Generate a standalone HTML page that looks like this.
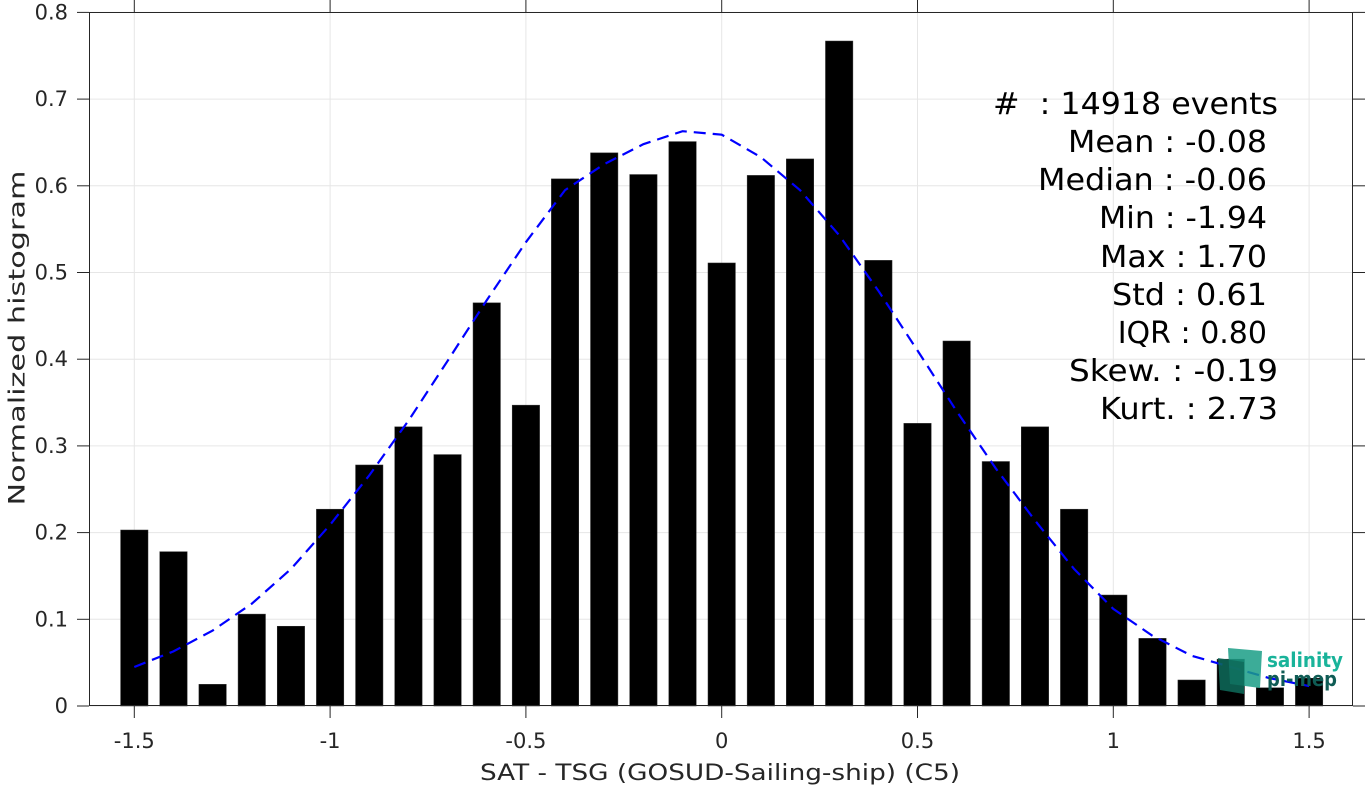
<!DOCTYPE html>
<html><head><meta charset="utf-8"><style>
body{margin:0;background:#fff;}
svg text{font-family:"DejaVu Sans","Liberation Sans",sans-serif;fill:#262626;}
</style></head><body>
<svg id="chart" width="1367" height="787" xmlns="http://www.w3.org/2000/svg">
<rect x="0" y="0" width="1367" height="787" fill="#fff"/>
<g id="grid"></g>
<g id="bars"></g>
<path id="fit" fill="none" stroke="#0000ff" stroke-width="2.2" stroke-dasharray="12,7"/>
<rect x="89.5" y="12.5" width="1263" height="693" fill="none" stroke="#262626" stroke-width="1"/>
<g id="ticks"></g>
<text x="18" y="338" font-size="22" text-anchor="middle" textLength="335" lengthAdjust="spacingAndGlyphs" transform="rotate(-90 18 338)" dominant-baseline="central">Normalized histogram</text>
<text x="480" y="780" font-size="22" textLength="480" lengthAdjust="spacingAndGlyphs">SAT - TSG (GOSUD-Sailing-ship) (C5)</text>
<g font-size="30">
<text x="993" y="114" textLength="285" lengthAdjust="spacingAndGlyphs" style="fill:#000">#&#160;&#160;: 14918 events</text>
<text x="1068" y="152" textLength="199" lengthAdjust="spacingAndGlyphs" style="fill:#000">Mean : -0.08</text>
<text x="1038" y="190" textLength="229" lengthAdjust="spacingAndGlyphs" style="fill:#000">Median : -0.06</text>
<text x="1099" y="228" textLength="168" lengthAdjust="spacingAndGlyphs" style="fill:#000">Min : -1.94</text>
<text x="1100" y="267" textLength="167" lengthAdjust="spacingAndGlyphs" style="fill:#000">Max : 1.70</text>
<text x="1112" y="305" textLength="155" lengthAdjust="spacingAndGlyphs" style="fill:#000">Std : 0.61</text>
<text x="1267" y="343" text-anchor="end" style="fill:#000">IQR : 0.80</text>
<text x="1069" y="381" textLength="209" lengthAdjust="spacingAndGlyphs" style="fill:#000">Skew. : -0.19</text>
<text x="1100" y="419" textLength="178" lengthAdjust="spacingAndGlyphs" style="fill:#000">Kurt. : 2.73</text>
</g>
<g>
<polygon points="1228,648 1262,651 1260,688 1230,684" fill="#1a9e86" opacity="0.85"/>
<polygon points="1218,658 1244,662 1244,694 1220,690" fill="#0e6b5a" opacity="0.85"/>
<text x="1267" y="667" font-size="20" font-weight="bold" textLength="76" lengthAdjust="spacingAndGlyphs" style="fill:#19b39a">salinity</text>
<text x="1267" y="686" font-size="20" font-weight="bold" textLength="70" lengthAdjust="spacingAndGlyphs" style="fill:#0f5c55">pi-mep</text>
</g>
</svg>
<script>
const binCenters=[-1.5,-1.4,-1.3,-1.2,-1.1,-1.0,-0.9,-0.8,-0.7,-0.6,-0.5,-0.4,-0.3,-0.2,-0.1,0,0.1,0.2,0.3,0.4,0.5,0.6,0.7,0.8,0.9,1.0,1.1,1.2,1.3,1.4,1.5];
const histValues=[0.203,0.178,0.025,0.106,0.092,0.227,0.278,0.322,0.290,0.465,0.347,0.608,0.638,0.613,0.651,0.511,0.612,0.631,0.767,0.514,0.326,0.421,0.282,0.322,0.227,0.128,0.078,0.030,0.054,0.021,0.032];
const fitValues=[0.045,0.063,0.087,0.118,0.158,0.209,0.266,0.329,0.398,0.468,0.535,0.595,0.625,0.648,0.663,0.659,0.633,0.595,0.543,0.479,0.410,0.340,0.274,0.214,0.158,0.112,0.081,0.058,0.045,0.032,0.023];
const xTicks=[-1.5,-1,-0.5,0,0.5,1,1.5];
const xTickLabels=["-1.5","-1","-0.5","0","0.5","1","1.5"];
const yTicks=[0,0.1,0.2,0.3,0.4,0.5,0.6,0.7,0.8];
const yTickLabels=["0","0.1","0.2","0.3","0.4","0.5","0.6","0.7","0.8"];
const X=v=>134.3+(v+1.5)*391.6;
const Y=v=>706-v*867;
const NS="http://www.w3.org/2000/svg";
function mk(t,a,p){const e=document.createElementNS(NS,t);for(const k in a)e.setAttribute(k,a[k]);p.appendChild(e);return e;}
const grid=document.getElementById('grid'),ticks=document.getElementById('ticks'),bars=document.getElementById('bars');
xTicks.forEach((v,i)=>{
  const g=mk('line',{x1:X(v),x2:X(v),y1:12,y2:706,stroke:'#e6e6e6','stroke-width':1},grid);
  
  
  mk('line',{x1:X(v),x2:X(v),y1:706,y2:718,stroke:'#262626'},ticks);
  mk('line',{x1:X(v),x2:X(v),y1:0,y2:12,stroke:'#262626'},ticks);
  const t=mk('text',{x:X(v),y:748,'font-size':21,'text-anchor':'middle'},ticks);
  t.textContent=xTickLabels[i];
  
  
});
yTicks.forEach((v,i)=>{
  const g=mk('line',{x1:89,x2:1353,y1:Y(v),y2:Y(v),stroke:'#e6e6e6','stroke-width':1},grid);
  
  
  mk('line',{x1:77,x2:89,y1:Y(v),y2:Y(v),stroke:'#262626'},ticks);
  mk('line',{x1:1353,x2:1365,y1:Y(v),y2:Y(v),stroke:'#262626'},ticks);
  const t=mk('text',{x:68,y:Y(v)+7,'font-size':21,'text-anchor':'end'},ticks);
  t.textContent=yTickLabels[i];
  
  
});
const bw=0.07*391.6;
binCenters.forEach((c,i)=>{
  const r=mk('rect',{x:X(c)-bw/2,y:Y(histValues[i]),width:bw,height:706-Y(histValues[i]),fill:'#000',stroke:'#333','stroke-width':0.5},bars);
  
  
});
document.getElementById('fit').setAttribute('d',binCenters.map((c,i)=>(i?'L':'M')+X(c)+','+Y(fitValues[i])).join(' '));
</script>
</body></html>
